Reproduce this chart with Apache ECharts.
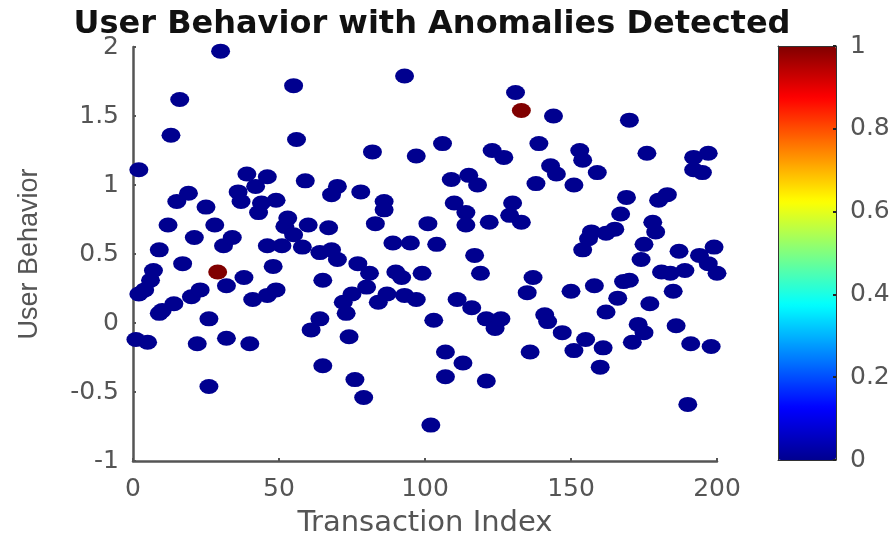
<!DOCTYPE html>
<html>
<head>
<meta charset="utf-8">
<script src="https://cdn.jsdelivr.net/npm/echarts@6/dist/echarts.min.js"></script>
<style>
html,body{margin:0;padding:0;background:#fff;}
#chart{width:895px;height:535px;}
</style>
</head>
<body>
<div id="chart"></div>
<script>
const chartTitle = 'User Behavior with Anomalies Detected';
const xAxisName = 'Transaction Index';
const yAxisName = 'User Behavior';
const xTicks = [0, 50, 100, 150, 200];
const yTicks = [-1, -0.5, 0, 0.5, 1, 1.5, 2];
const colorbarTicks = [0, 0.2, 0.4, 0.6, 0.8, 1];

const transactionIndex = [
  1, 2, 2, 4, 5, 6, 7, 9, 9, 10, 12, 13, 14, 15, 16, 17, 19, 20, 21, 22,
  23, 25, 26, 26, 28, 29, 30, 31, 32, 32, 34, 36, 37, 38, 39, 40, 41, 42, 43, 44,
  46, 46, 46, 48, 49, 49, 51, 52, 53, 55, 55, 56, 58, 59, 60, 61, 64, 64, 65, 65,
  67, 68, 68, 70, 70, 72, 73, 74, 75, 76, 77, 78, 79, 80, 81, 82, 83, 84, 86, 86,
  87, 89, 90, 92, 93, 93, 95, 97, 97, 99, 101, 102, 103, 104, 106, 107, 107, 109, 110, 111,
  113, 114, 114, 115, 116, 117, 118, 119, 121, 121, 122, 123, 124, 126, 127, 129, 130, 131, 133, 133,
  135, 136, 137, 138, 139, 141, 142, 143, 144, 145, 147, 150, 151, 151, 153, 154, 154, 155, 156, 157,
  158, 159, 160, 161, 162, 162, 165, 166, 167, 168, 169, 170, 170, 171, 173, 174, 175, 175, 176, 177,
  178, 179, 180, 181, 183, 184, 185, 186, 187, 189, 190, 191, 192, 192, 194, 195, 197, 197, 198, 199,
  200
];
const userBehavior = [
  -0.12, 1.11, 0.21, 0.24, -0.14, 0.31, 0.38, 0.53, 0.07, 0.09, 0.71, 1.36, 0.14, 0.88, 1.62, 0.43, 0.94, 0.19, 0.62, -0.15,
  0.24, 0.84, -0.46, 0.03, 0.71, 0.37, 1.97, 0.56, -0.11, 0.27, 0.62, 0.95, 0.88, 0.33, 1.08, -0.15, 0.17, 0.99, 0.80, 0.87,
  1.06, 0.56, 0.20, 0.41, 0.89, 0.24, 0.56, 0.70, 0.76, 0.64, 1.72, 1.33, 0.55, 1.03, 0.71, -0.05, 0.03, 0.51, -0.31, 0.31,
  0.69, 0.53, 0.93, 0.99, 0.46, 0.15, 0.07, -0.10, 0.21, -0.41, 0.43, 0.95, -0.54, 0.26, 0.36, 1.24, 0.72, 0.15, 0.88, 0.82,
  0.21, 0.58, 0.37, 0.33, 1.79, 0.20, 0.58, 0.17, 1.21, 0.36, 0.72, -0.74, 0.02, 0.57, 1.30, -0.39, -0.21, 1.04, 0.87, 0.17,
  -0.29, 0.80, 0.71, 1.07, 0.11, 0.49, 1.00, 0.36, 0.03, -0.42, 0.73, 1.25, -0.04, 0.03, 1.20, 0.78, 0.87, 1.67, 0.73, 1.54,
  0.22, -0.21, 0.33, 1.01, 1.30, 0.06, 0.01, 1.14, 1.50, 1.08, -0.07, 0.23, -0.20, 1.00, 1.25, 1.18, 0.53, -0.12, 0.61, 0.66,
  0.27, 1.09, -0.32, -0.18, 0.65, 0.08, 0.68, 0.18, 0.79, 0.30, 0.91, 1.47, 0.31, -0.14, -0.01, 0.46, -0.07, 0.57, 1.23, 0.14,
  0.73, 0.66, 0.89, 0.37, 0.93, 0.36, 0.23, -0.02, 0.52, 0.38, -0.59, -0.15, 1.20, 1.11, 0.49, 1.09, 0.43, 1.23, -0.17, 0.55,
  0.36
];
const anomalyFlag = transactionIndex.map(() => 0);
// the two detected anomalies (index 29 at 0.37, index 133 at 1.54)
const anomalyPositions = [25, 119];
anomalyPositions.forEach(p => { anomalyFlag[p] = 1; });

const jetColors = ['#00008f', '#0000ff', '#0080ff', '#00ffff', '#80ff80', '#ffff00', '#ff8000', '#ff0000', '#800000'];

const points = transactionIndex.map((x, i) => [x, userBehavior[i], anomalyFlag[i]]);

const tickFont = 'DejaVu Sans';
const axisGray = '#555555';
const labelGray = '#555555';

const chart = echarts.init(document.getElementById('chart'), null, {renderer: 'canvas'});
chart.setOption({
  animation: false,
  backgroundColor: '#ffffff',
  title: {
    text: chartTitle,
    left: 427,
    top: 4,
    textAlign: 'center',
    textStyle: {fontFamily: 'DejaVu Sans', fontWeight: 'bold', fontSize: 32, color: '#111111'}
  },
  grid: [
    {left: 133, top: 47, width: 584, height: 414, containLabel: false, outerBoundsMode: 'none'},
    {left: 778, top: 46, width: 58, height: 414, containLabel: false, outerBoundsMode: 'none'}
  ],
  xAxis: [
    {
      type: 'value', gridIndex: 0, min: xTicks[0], max: xTicks[xTicks.length - 1], interval: 50,
      name: xAxisName, nameLocation: 'middle', nameGap: 48,
      nameTextStyle: {fontFamily: tickFont, fontSize: 29, color: labelGray},
      axisLine: {show: true, onZero: false, lineStyle: {color: axisGray, width: 2.5}},
      axisTick: {show: true, inside: true, length: 3, lineStyle: {color: axisGray, width: 2}},
      axisLabel: {fontFamily: tickFont, fontSize: 25, color: labelGray, margin: 16},
      splitLine: {show: false}
    },
    {
      type: 'value', gridIndex: 1, min: 0, max: 1, position: 'bottom', z: 10,
      axisLine: {show: true, onZero: false, lineStyle: {color: '#333333', width: 1}},
      axisTick: {show: false}, axisLabel: {show: false}, splitLine: {show: false}
    },
    {
      type: 'value', gridIndex: 1, min: 0, max: 1, position: 'top', z: 10,
      axisLine: {show: true, onZero: false, lineStyle: {color: '#333333', width: 1}},
      axisTick: {show: false}, axisLabel: {show: false}, splitLine: {show: false}
    }
  ],
  yAxis: [
    {
      type: 'value', gridIndex: 0, min: yTicks[0], max: yTicks[yTicks.length - 1], interval: 0.5,
      name: yAxisName, nameLocation: 'middle', nameGap: 90, nameRotate: 90,
      nameTextStyle: {fontFamily: 'Liberation Sans', fontSize: 27, color: labelGray},
      axisLine: {show: true, onZero: false, lineStyle: {color: axisGray, width: 2.5}},
      axisTick: {show: true, inside: true, length: 3, lineStyle: {color: axisGray, width: 2}},
      axisLabel: {fontFamily: tickFont, fontSize: 25, color: labelGray, margin: 14},
      splitLine: {show: false}
    },
    {
      type: 'value', gridIndex: 1, min: 0, max: 1, position: 'left', z: 10,
      axisLine: {show: true, onZero: false, lineStyle: {color: '#333333', width: 1}},
      axisTick: {show: false}, axisLabel: {show: false}, splitLine: {show: false}
    },
    {
      type: 'value', gridIndex: 1, min: colorbarTicks[0], max: colorbarTicks[colorbarTicks.length - 1], interval: 0.2,
      position: 'right', z: 10,
      axisLine: {show: true, onZero: false, lineStyle: {color: '#333333', width: 1}},
      axisTick: {show: true, inside: true, length: 3, lineStyle: {color: '#222222', width: 2}},
      axisLabel: {fontFamily: tickFont, fontSize: 25, color: labelGray, margin: 14},
      splitLine: {show: false}
    }
  ],
  visualMap: {
    type: 'continuous',
    min: 0, max: 1,
    dimension: 2,
    seriesIndex: 0,
    calculable: false,
    orient: 'vertical',
    left: 778, top: 46,
    itemWidth: 58, itemHeight: 414,
    padding: 0,
    text: null,
    showLabel: false,
    hoverLink: false,
    inRange: {color: jetColors}
  },
  series: [{
    type: 'scatter',
    xAxisIndex: 0, yAxisIndex: 0,
    symbol: 'path://M-1,0A1,1,0,1,1,1,0A1,1,0,1,1,-1,0Z',
    symbolSize: [19, 15],
    data: points,
    itemStyle: {opacity: 1}
  }]
});
</script>
</body>
</html>
